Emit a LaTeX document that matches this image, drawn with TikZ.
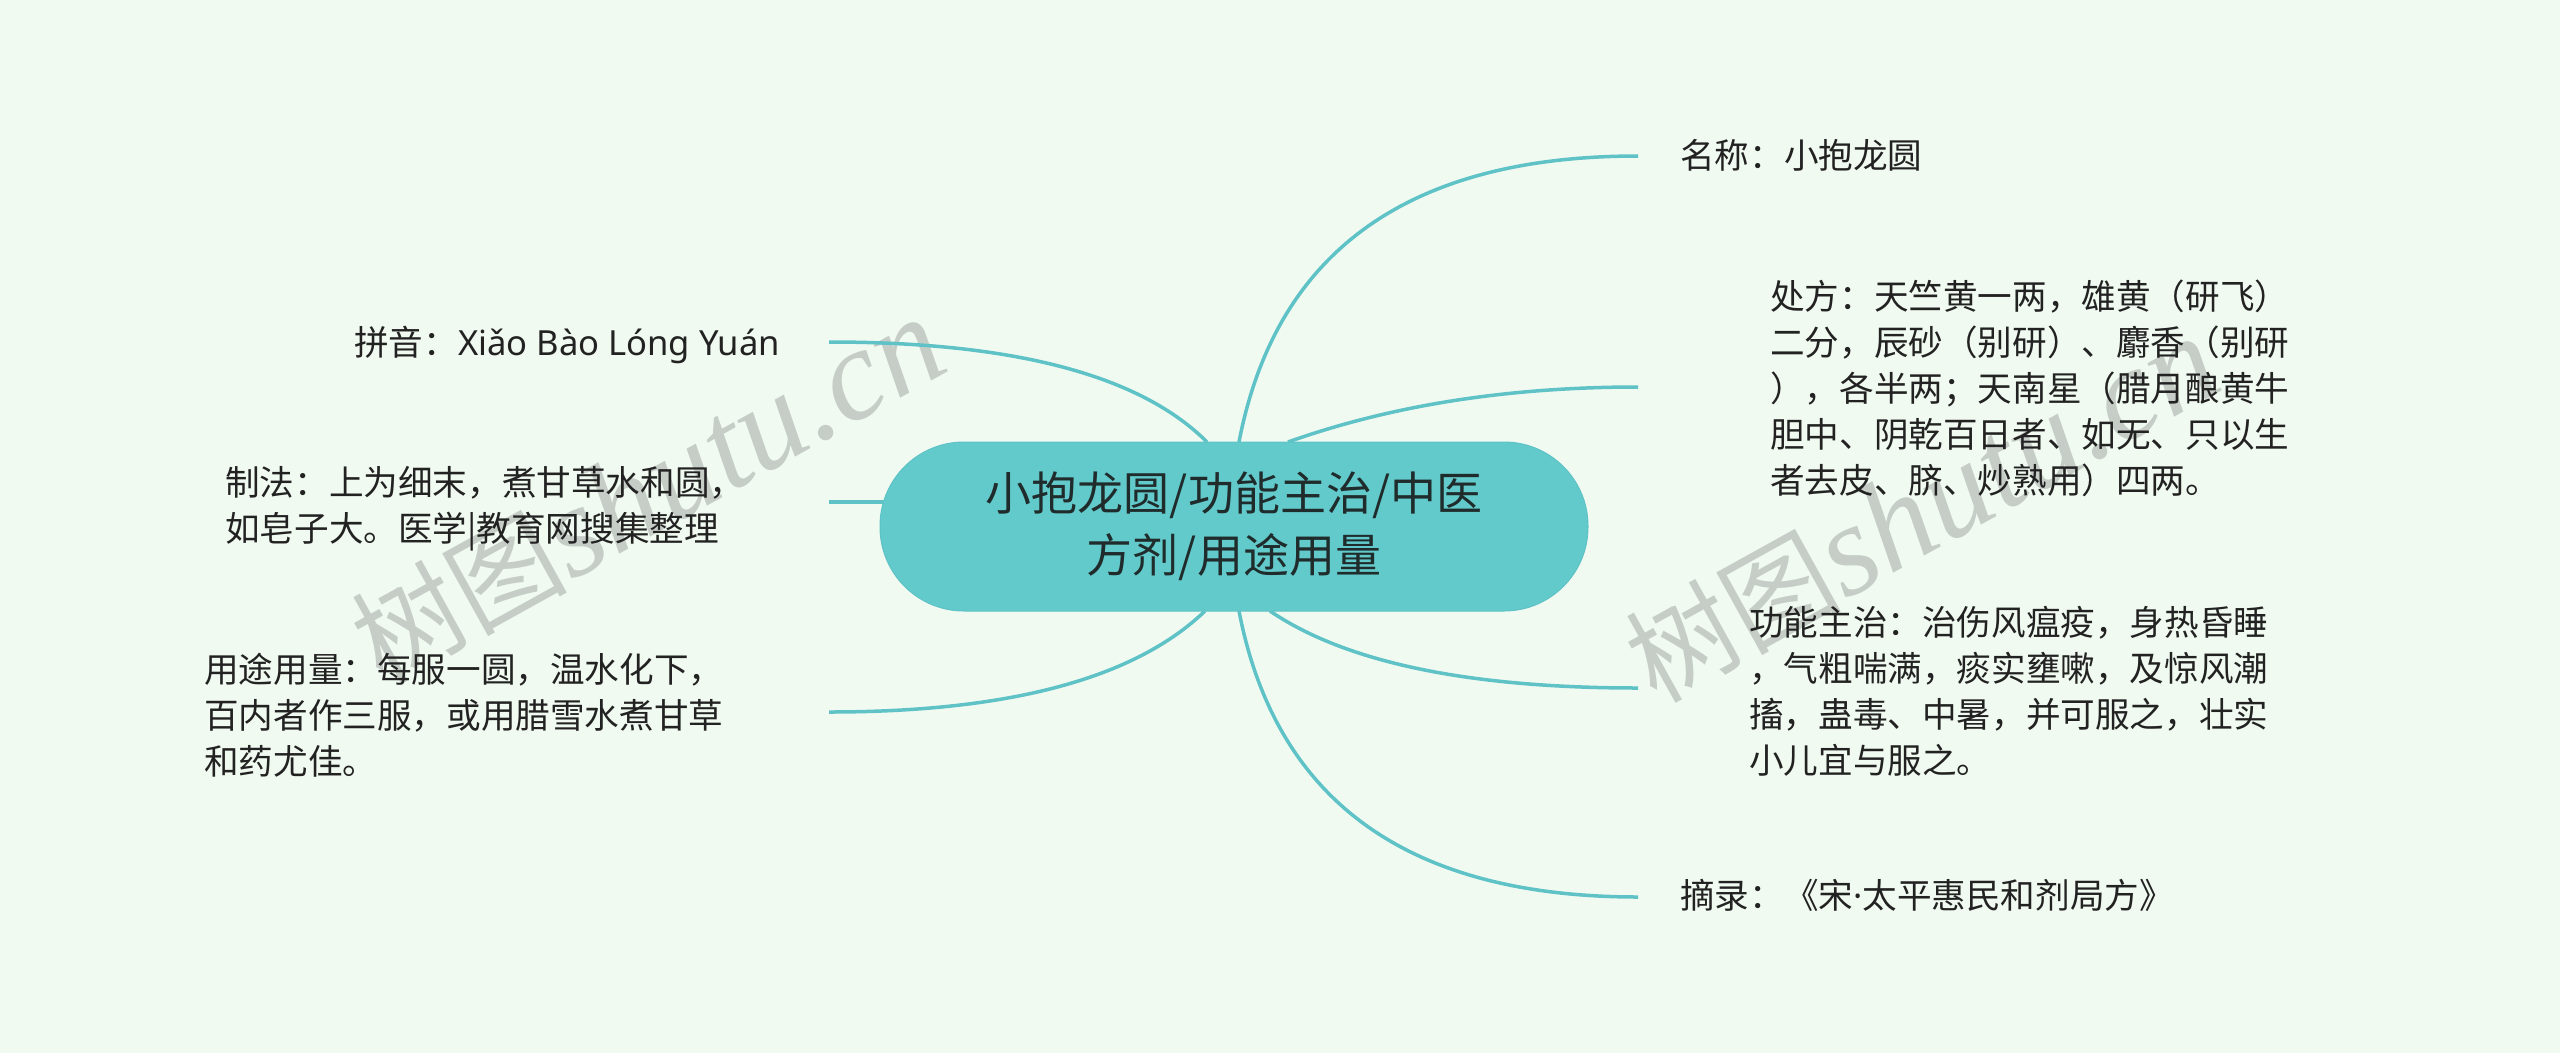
\documentclass[tikz,border=0pt]{standalone}
\usepackage{fontspec}
\setmainfont{Noto Sans CJK SC}
\newfontfamily\pinyinfont{Noto Sans}
\newfontfamily\wmcjk{Noto Sans CJK SC}
\newfontfamily\wmserif{Liberation Serif}
\usetikzlibrary{calc}
\definecolor{bgc}{RGB}{240,250,240}
\definecolor{mmteal}{RGB}{99,202,204}
\definecolor{mmline}{RGB}{94,194,198}
\definecolor{txtc}{RGB}{34,34,34}
\definecolor{roottxt}{RGB}{32,44,44}
\definecolor{wmc}{RGB}{198,205,199}
\tikzset{
  conn/.style={draw=mmline, line width=3.5pt},
  leaf/.style={anchor=base west, inner sep=0pt, align=left, text=txtc,
    font=\fontsize{34.6pt}{46pt}\selectfont},
  rootbox/.style={fill=mmteal, draw=mmline, line width=1pt, rounded corners=84pt,
    minimum width=708pt, minimum height=169pt, inner sep=0pt, align=center,
    text=roottxt, font=\fontsize{46pt}{62pt}\selectfont},
  wmark/.style={anchor=base west, inner sep=0pt, rotate=29, text=wmc}
}
\newcommand{\wmtext}{{\wmcjk\fontsize{108pt}{108pt}\selectfont 树图}{\wmserif\itshape\fontsize{130pt}{130pt}\selectfont shutu.cn}}
\begin{document}
\begin{tikzpicture}[x=1pt,y=-1pt]
\fill[bgc] (0,0) rectangle (2560,1053);
\useasboundingbox (0,0) rectangle (2560,1053);

% watermarks
\node[wmark] (wm1) at (382,686) {\wmtext};
\node[wmark] (wm2) at (1656,705) {\wmtext};

% root placement reference
\coordinate (rc) at (1234,526.5);

% connector end points
\coordinate (e1) at (1638,156);
\coordinate (e2) at (1638,387);
\coordinate (e3) at (1638,688);
\coordinate (e4) at (1638,897);
\coordinate (e5) at (829,342);
\coordinate (e6) at (829,502);
\coordinate (e7) at (829,712);

% connector start points on the root
\coordinate (s1) at (1239,442);
\coordinate (s2) at (1288,442);
\coordinate (s3) at (1270,611);
\coordinate (s4) at (1239,611);
\coordinate (s5) at (1207,442);
\coordinate (s6) at (905,502);
\coordinate (s7) at (1205,611);

\draw[conn] (s1) .. controls (1275.7,251.3) and (1408.7,156) .. (e1);
\draw[conn] (s2) .. controls (1391.3,405.3) and (1508,387) .. (e2);
\draw[conn] (s3) .. controls (1345.3,662.3) and (1468,688) .. (e3);
\draw[conn] (s4) .. controls (1275.7,801.7) and (1408.7,897) .. (e4);
\draw[conn] (s5) .. controls (1140.3,375.3) and (1014.3,342) .. (e5);
\draw[conn] (s6) -- (e6);
\draw[conn] (s7) .. controls (1135,678.3) and (1009.7,712) .. (e7);

\node[rootbox] (root) at (rc) {小抱龙圆/功能主治/中医\\方剂/用途用量};

% right leaves (anchor = baseline of last line)
\node[leaf] (n1) at (1680,168) {名称：小抱龙圆};
\node[leaf] (n2) at (1770,493) {处方：天竺黄一两，雄黄（研飞）\\二分，辰砂（别研）、麝香（别研\\），各半两；天南星（腊月酿黄牛\\胆中、阴乾百日者、如无、只以生\\者去皮、脐、炒熟用）四两。};
\node[leaf] (n3) at (1749,773) {功能主治：治伤风瘟疫，身热昏睡\\，气粗喘满，痰实壅嗽，及惊风潮\\搐，蛊毒、中暑，并可服之，壮实\\小儿宜与服之。};
\node[leaf] (n4) at (1680,908) {摘录：《宋{\pinyinfont ·}太平惠民和剂局方》};

% left leaves
\node[leaf] (n5) at (354,355) {拼音：{\pinyinfont Xiǎo Bào Lóng Yuán}};
\node[leaf] (n6) at (225,541) {制法：上为细末，煮甘草水和圆，\\如皂子大。医学|教育网搜集整理};
\node[leaf] (n7) at (204,774) {用途用量：每服一圆，温水化下，\\百内者作三服，或用腊雪水煮甘草\\和药尤佳。};
\end{tikzpicture}
\end{document}
